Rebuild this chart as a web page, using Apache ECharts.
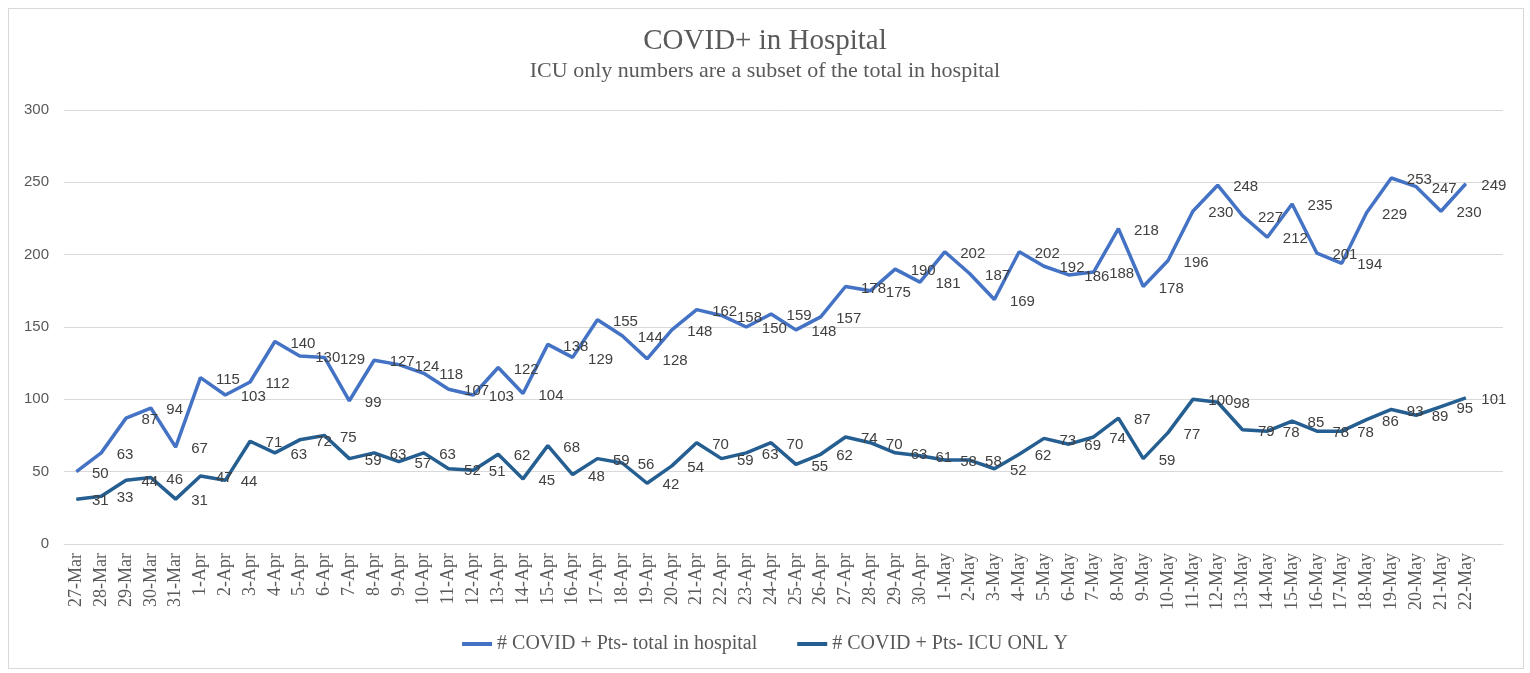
<!DOCTYPE html>
<html>
<head>
<meta charset="utf-8">
<script src="https://cdn.jsdelivr.net/npm/echarts@6/dist/echarts.min.js"></script>
<style>
html,body{margin:0;padding:0;background:#fff;}
#frame{position:absolute;left:8px;top:8px;width:1514px;height:659px;border:1px solid #d9d9d9;}
#chart{position:absolute;left:0;top:0;width:1530px;height:673px;}
</style>
</head>
<body>
<div id="frame"></div>
<div id="chart"></div>
<script>
const categories = ['27-Mar','28-Mar','29-Mar','30-Mar','31-Mar',
 '1-Apr','2-Apr','3-Apr','4-Apr','5-Apr','6-Apr','7-Apr','8-Apr','9-Apr','10-Apr',
 '11-Apr','12-Apr','13-Apr','14-Apr','15-Apr','16-Apr','17-Apr','18-Apr','19-Apr','20-Apr',
 '21-Apr','22-Apr','23-Apr','24-Apr','25-Apr','26-Apr','27-Apr','28-Apr','29-Apr','30-Apr',
 '1-May','2-May','3-May','4-May','5-May','6-May','7-May','8-May','9-May','10-May',
 '11-May','12-May','13-May','14-May','15-May','16-May','17-May','18-May','19-May','20-May',
 '21-May','22-May',''];
const totalInHospital = [50,63,87,94,67,
 115,103,112,140,130,129,99,127,124,118,
 107,103,122,104,138,129,155,144,128,148,
 162,158,150,159,148,157,178,175,190,181,
 202,187,169,202,192,186,188,218,178,196,
 230,248,227,212,235,201,194,229,253,247,
 230,249,null];
const icuOnly = [31,33,44,46,31,
 47,44,71,63,72,75,59,63,57,63,
 52,51,62,45,68,48,59,56,42,54,
 70,59,63,70,55,62,74,70,63,61,
 58,58,52,62,73,69,74,87,59,77,
 100,98,79,78,85,78,78,86,93,89,
 95,101,null];
const seriesNames = ['# COVID + Pts- total in hospital','# COVID + Pts- ICU ONL Y'];
const yTicks = {min:0, max:300, interval:50};

const chart = echarts.init(document.getElementById('chart'));
const serif = '"Liberation Serif", "DejaVu Serif", serif';
const sans = '"Liberation Sans", "Noto Sans", sans-serif';
const labelStyle = {show:true, position:'right', distance:15, offset:[0,2], color:'#404040', fontFamily:sans, fontSize:15};
chart.setOption({
  animation:false,
  title:{
    text:'COVID+ in Hospital',
    subtext:'ICU only numbers are a subset of the total in hospital',
    left:'center', top:22, itemGap:4,
    textStyle:{fontFamily:serif, fontSize:29, fontWeight:'normal', color:'#595959'},
    subtextStyle:{fontFamily:serif, fontSize:22, color:'#595959'}
  },
  legend:{
    bottom:14, left:'center', icon:'rect', itemWidth:30, itemHeight:4, itemGap:40,
    textStyle:{fontFamily:serif, fontSize:20, color:'#595959'},
    data:seriesNames
  },
  grid:{left:64, right:27, top:110, bottom:129, containLabel:false},
  xAxis:{
    type:'category', data:categories, boundaryGap:true,
    axisLine:{lineStyle:{color:'#d9d9d9', width:1}},
    axisTick:{show:false},
    axisLabel:{interval:0, rotate:90, margin:9, color:'#595959', fontFamily:serif, fontSize:18}
  },
  yAxis:{
    type:'value', min:yTicks.min, max:yTicks.max, interval:yTicks.interval,
    axisLine:{show:false}, axisTick:{show:false},
    splitLine:{lineStyle:{color:'#d9d9d9', width:1}},
    axisLabel:{color:'#595959', fontFamily:sans, fontSize:15, margin:15}
  },
  series:[
    {name:seriesNames[0], type:'line', data:totalInHospital, symbol:'circle', symbolSize:1, showSymbol:true,
     lineStyle:{color:'#4472c4', width:3.5}, itemStyle:{color:'#4472c4'}, label:labelStyle},
    {name:seriesNames[1], type:'line', data:icuOnly, symbol:'circle', symbolSize:1, showSymbol:true,
     lineStyle:{color:'#255e91', width:3.5}, itemStyle:{color:'#255e91'}, label:labelStyle}
  ]
});
</script>
</body>
</html>
